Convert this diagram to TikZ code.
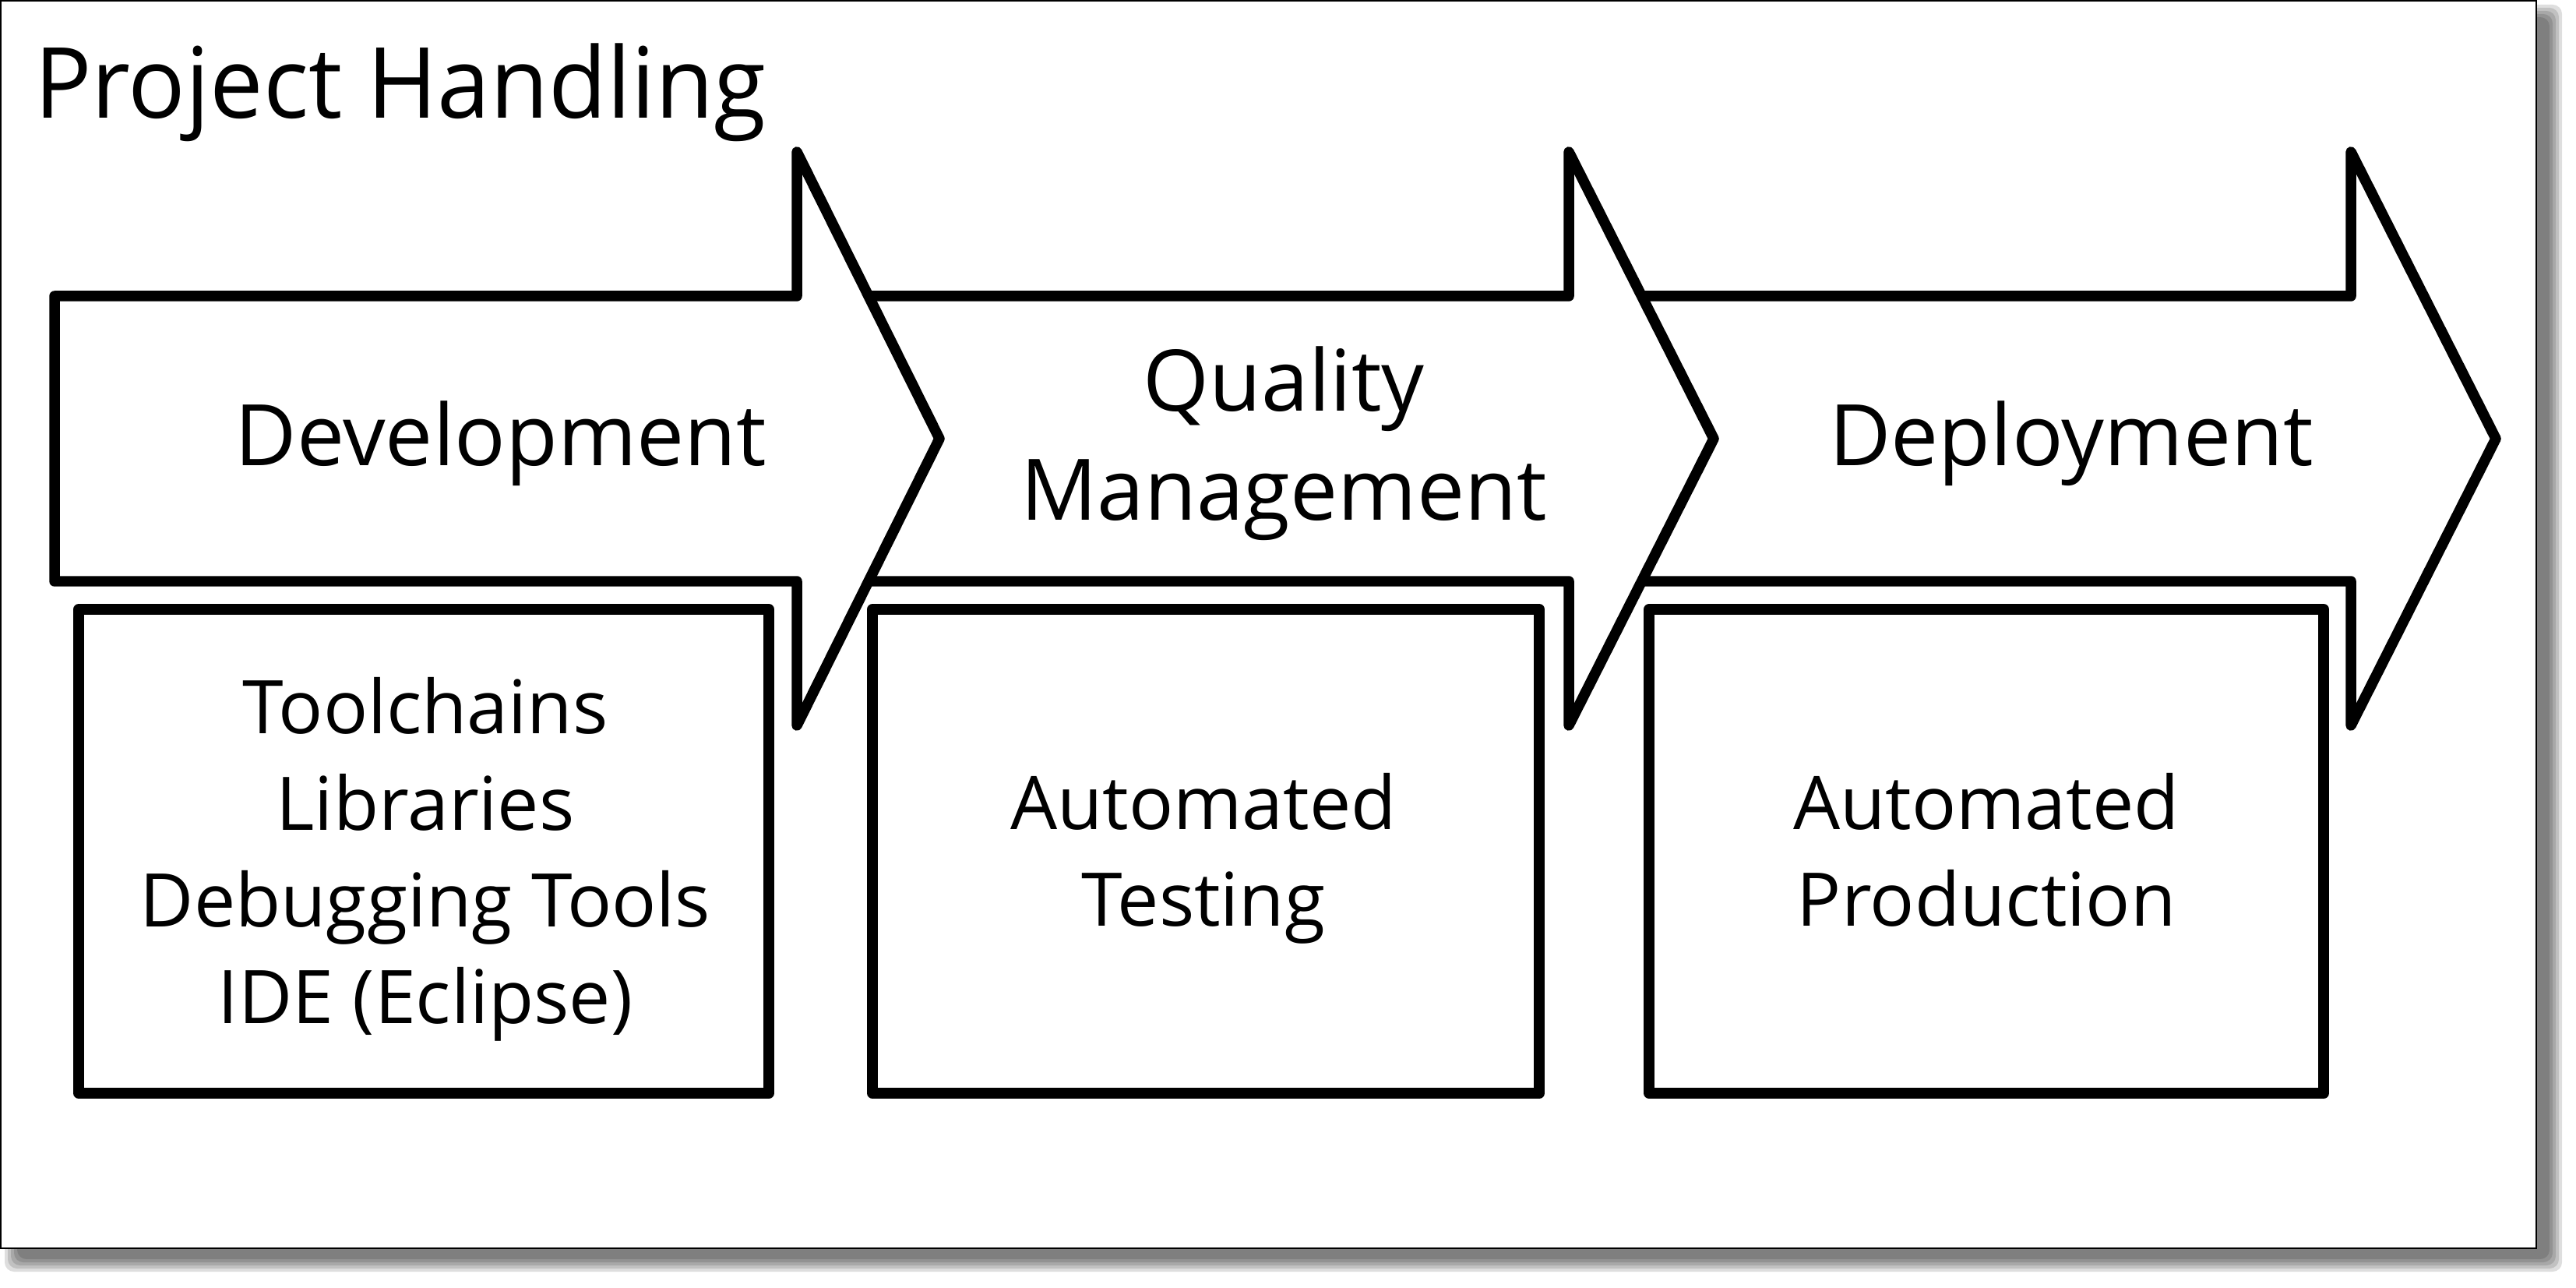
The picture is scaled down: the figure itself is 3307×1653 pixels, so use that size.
\documentclass[tikz,border=0pt]{standalone}
\usepackage{fontspec}
\setmainfont{Open Sans}
\begin{document}
\begin{tikzpicture}[x=0.1pt,y=-0.1pt,
  arrowshape/.style={draw=black,fill=white,line width=1.35pt,line join=round},
  boxshape/.style={draw=black,fill=white,line width=1.4pt,line join=round,rectangle,inner sep=0pt,minimum height=62.1pt},
  bigtext/.style={font=\fontsize{10.9pt}{14pt}\selectfont,inner sep=0pt,align=center},
  smalltext/.style={font=\fontsize{9.5pt}{12.4pt}\selectfont,inner sep=0pt,align=center},
  titletext/.style={font=\fontsize{12.6pt}{15pt}\selectfont,inner sep=0pt},
  shadowlayer/.style={fill=black,opacity=0.13,rounded corners=1.2pt}
]
\useasboundingbox (0,0) rectangle (3307,1653);
% frame shadow
\foreach \k in {-8,-4,0,4,8}{
  \fill[shadowlayer] (14-\k,14-\k) rectangle (3281+\k,1624+\k);
}
% frame
\draw[fill=white,line width=0.25pt] (1,1) rectangle (3256,1602);
% title
\node[titletext,anchor=base west] (title) at (42,152) {\scalebox{0.97}[1]{Project Handling}};
% process arrows (drawn right to left so each overlaps the next)
\filldraw[arrowshape] (2040,380) -- (3018,380) -- (3018,195) -- (3204,563) -- (3018,931) -- (3018,746) -- (2040,746) -- cycle;
\filldraw[arrowshape] (1050,380) -- (2014,380) -- (2014,195) -- (2200,563) -- (2014,931) -- (2014,746) -- (1050,746) -- cycle;
\filldraw[arrowshape] (70,380) -- (1023,380) -- (1023,195) -- (1206,563) -- (1023,931) -- (1023,746) -- (70,746) -- cycle;
% arrow labels
\node[bigtext,anchor=base] (dev) at (643,598) {Development};
\node[bigtext,anchor=base] (qm) at (1648,667) {Quality\\Management};
\node[bigtext,anchor=base] (dep) at (2659,598) {Deployment};
% boxes
\node[boxshape,minimum width=88.6pt] (b1) at (544,1092.5) {};
\node[boxshape,minimum width=85.6pt] (b2) at (1548,1092.5) {};
\node[boxshape,minimum width=86.6pt] (b3) at (2550,1092.5) {};
% box labels
\node[smalltext,anchor=base] (t1) at (546,1313) {Toolchains\\Libraries\\Debugging Tools\\IDE (Eclipse)};
\node[smalltext,anchor=base] (t2) at (1545,1188) {Automated\\Testing};
\node[smalltext,anchor=base] (t3) at (2550,1188) {Automated\\Production};
\end{tikzpicture}
\end{document}
